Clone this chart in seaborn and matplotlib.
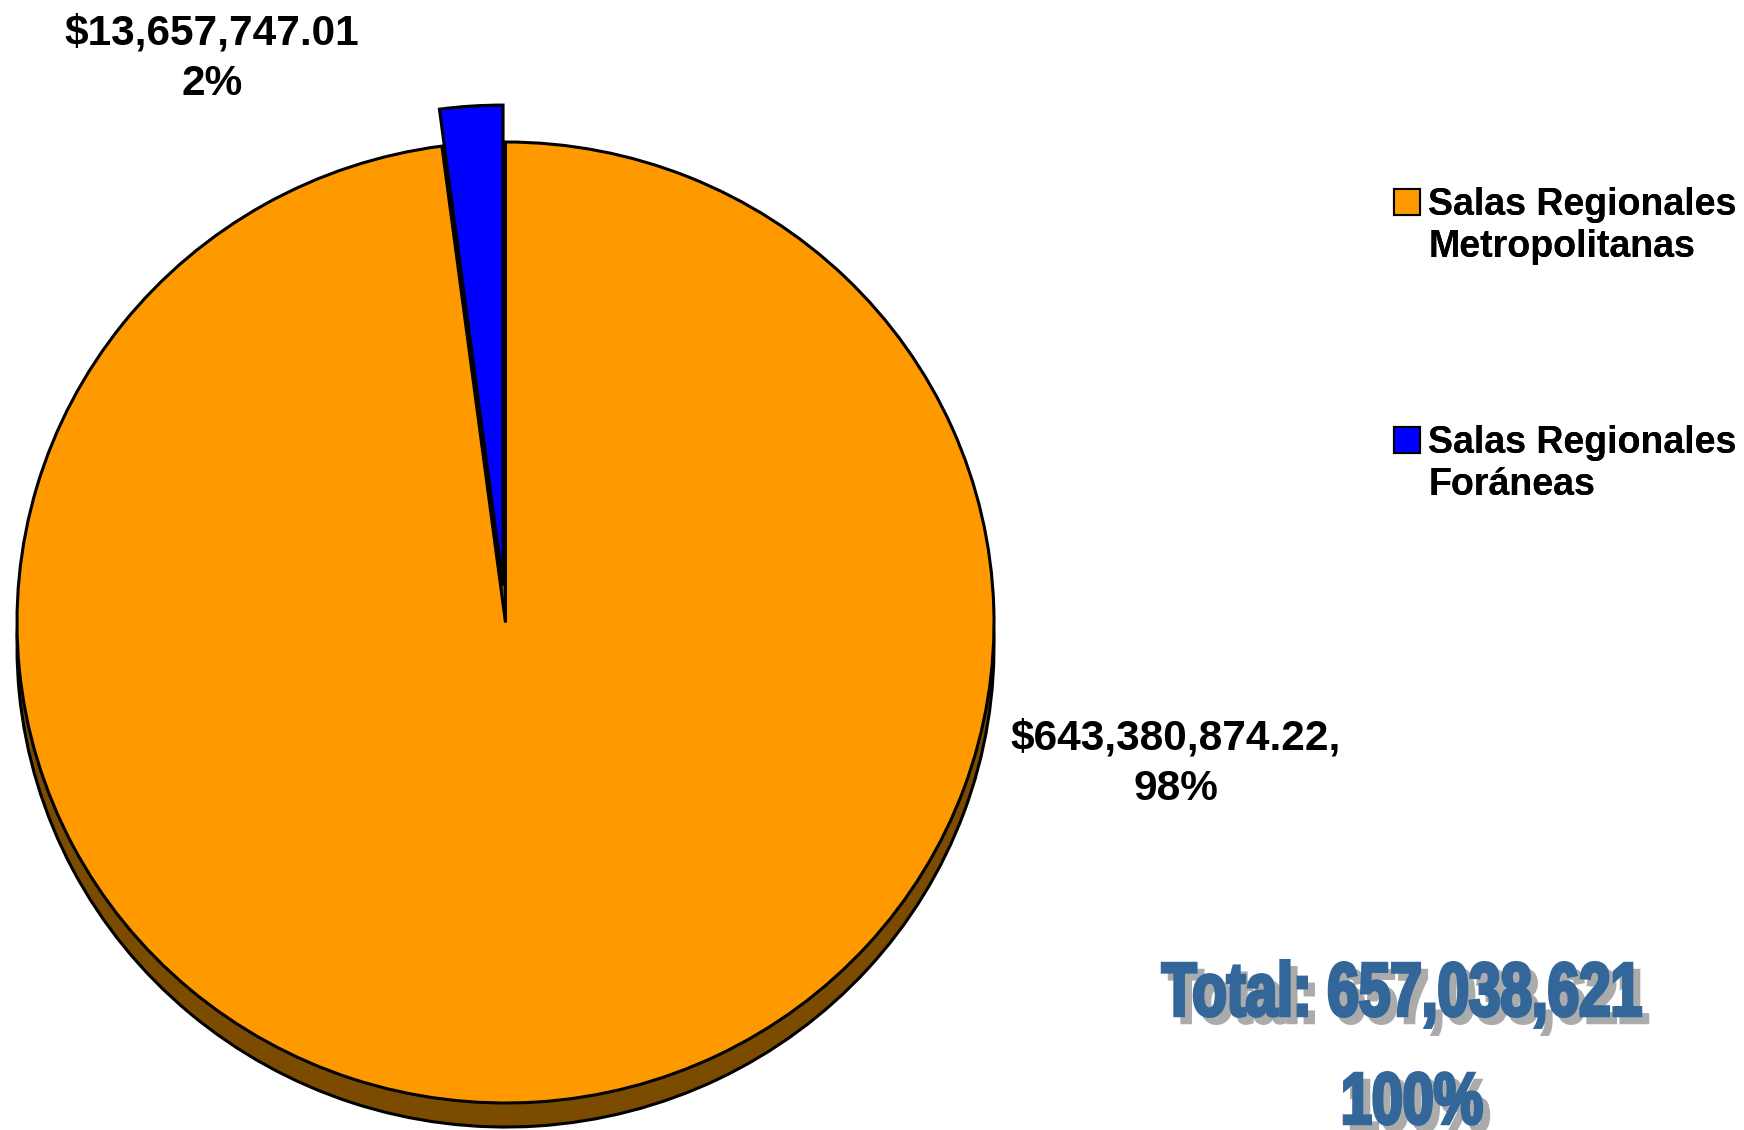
import matplotlib
matplotlib.use("Agg")
import matplotlib.pyplot as plt
from matplotlib.patches import Patch, PathPatch
from matplotlib.textpath import TextPath
from matplotlib.font_manager import FontProperties
from matplotlib.transforms import Affine2D
import seaborn as sns

# data
categories = ["Salas Regionales\nMetropolitanas", "Salas Regionales\nForáneas"]
amounts = [643380874.22, 13657747.01]
colors = ["#FF9900", "#0000FF"]
side_color = "#7B4C00"
total_color = "#336699"
shadow_color = "#ABABAB"

sns.set_theme(style="white")
plt.rcParams["font.family"] = ["Liberation Sans", "DejaVu Sans"]
plt.rcParams["text.color"] = "black"

W, H = 1744, 1130
fig = plt.figure(figsize=(W / 100, H / 100), dpi=100)
ax = fig.add_axes([0, 0, 1, 1])

# pie geometry in pixels (slightly squashed, like the 3D original)
cx, cy = 505.5, 622.5
rx, ry = 488.5, 480.5

total = sum(amounts)

# side of the 3D pie: same pie shifted down, drawn first
ax.pie(amounts, colors=[side_color, side_color], startangle=90, counterclock=False,
       center=(0, -0.05), wedgeprops=dict(edgecolor="black", linewidth=2.2))

wedges, _ = ax.pie(amounts, colors=colors, startangle=90, counterclock=False,
                   explode=[0, 0.077],
                   wedgeprops=dict(edgecolor="black", linewidth=2.2))

ax.set_aspect("auto")
ax.set_xlim((0 - cx) / rx, (W - cx) / rx)
ax.set_ylim((cy - H) / ry, cy / ry)
ax.axis("off")


def fx(px):
    return px / W


def fy(py):
    return 1 - py / H


# data labels
lab_big = f"${amounts[0]:,.2f},\n{amounts[0] / total:.0%}"
lab_small = f"${amounts[1]:,.2f}\n{amounts[1] / total:.0%}"
fig.text(fx(1176), fy(764), lab_big, ha="center", va="center", fontsize=30.5,
         fontweight="bold", linespacing=1.35)
fig.text(fx(212), fy(59), lab_small, ha="center", va="center", fontsize=30.5,
         fontweight="bold", linespacing=1.35)

# legend, one block per category so the swatch sits on the first line
for i, (lab, col) in enumerate(zip(categories, colors)):
    first, second = lab.split("\n")
    handles = [Patch(facecolor=col, edgecolor="black", linewidth=1.5),
               Patch(facecolor="none", edgecolor="none")]
    top = [187, 425][i]
    leg = fig.legend(handles, [first, second], loc="upper left",
                     bbox_to_anchor=(fx(1394), fy(top)), frameon=False,
                     borderpad=0, borderaxespad=0, handlelength=0.7, handleheight=0.7,
                     handletextpad=0.22, labelspacing=0.15,
                     prop=dict(size=27, weight="bold"))
    fig.add_artist(leg)

# total, in a condensed heavy face (bold text squeezed sideways) with a drop shadow
px_to_fig = Affine2D().scale(1 / W, 1 / H) + fig.transFigure
fp = FontProperties(family="Liberation Sans", weight="bold")
cap_h = TextPath((0, 0), "T", size=1, prop=fp).get_extents().height


def heavy_text(s, left, right, top, base, shift=7):
    tp = TextPath((0, 0), s, size=1, prop=fp)
    ext = tp.get_extents()
    sx = (right - left - 3) / ext.width
    sy = (base - top - 3) / cap_h
    for dx, dy, c in [(shift, -shift, shadow_color), (0, 0, total_color)]:
        tr = (Affine2D().translate(-ext.x0, 0).scale(sx, sy)
              .translate(left + 1.5 + dx, H - base + 1.5 + dy) + px_to_fig)
        fig.add_artist(PathPatch(tp, facecolor=c, edgecolor=c, linewidth=2.5,
                                 transform=tr))


heavy_text(f"Total: {total:,.0f}", 1161, 1642, 962, 1017)
heavy_text(f"{total / total:.0%}", 1343, 1483, 1072, 1125)

fig.savefig("out.png", dpi=100, facecolor="white")
